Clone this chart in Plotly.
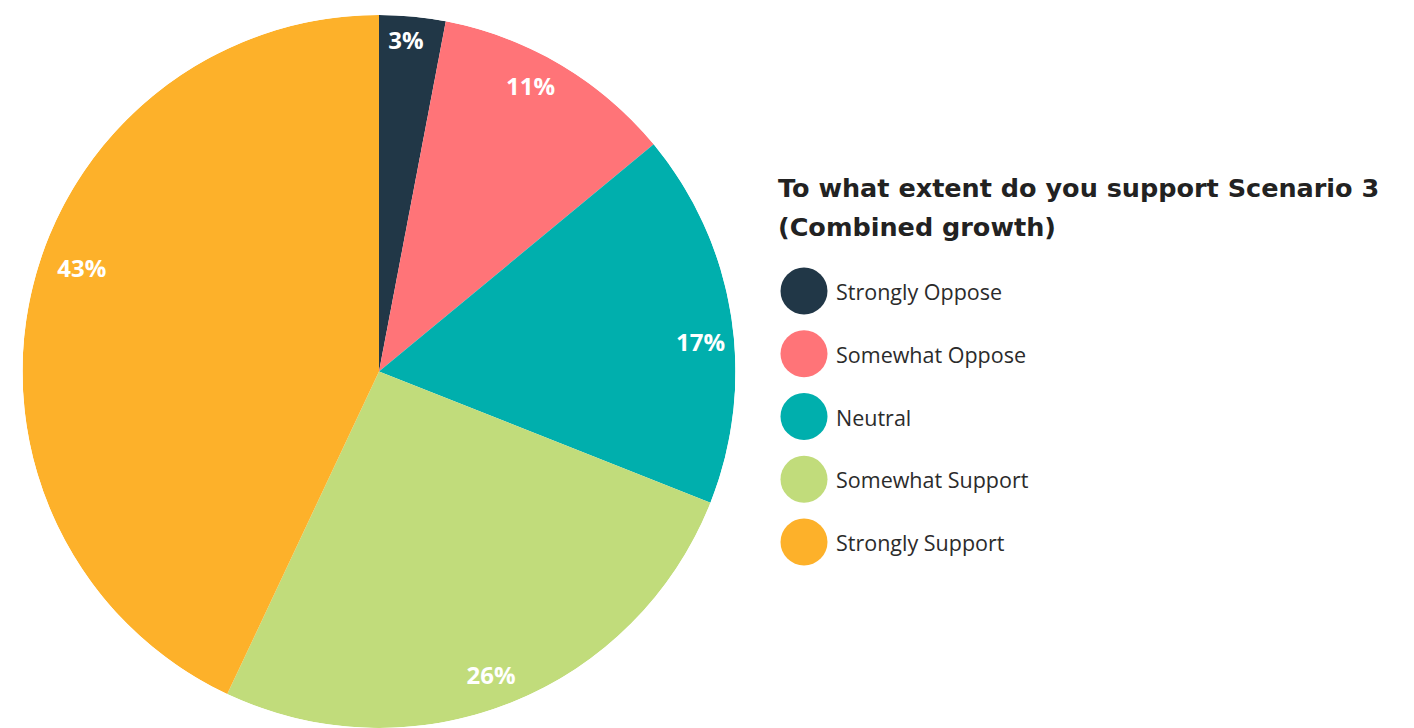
import numpy as np
import plotly.graph_objects as go

# Survey responses (percent of respondents)
categories = ["Strongly Oppose", "Somewhat Oppose", "Neutral", "Somewhat Support", "Strongly Support"]
shares = [3, 11, 17, 26, 43]
colors = ["#213747", "#FF7478", "#00AFAD", "#C1DC7B", "#FDB12A"]
title_lines = ["To what extent do you support Scenario 3", "(Combined growth)"]

W, H = 1414, 728
FONT = "Open Sans"
TITLE_FONT = "DejaVu Sans"

# label placement tweaks (radius fraction, angular nudge in degrees)
label_r = [0.925, 0.90, 0.905, 0.915, 0.88]
label_nudge = [-0.7, -2.4, 4.3, 1.5, 6.1]

vals = np.array(shares, dtype=float)
span = vals / vals.sum() * 360.0
start = np.concatenate([[0.0], np.cumsum(span)[:-1]])
mid = start + span / 2.0

fig = go.Figure()

# Pie slices as full-radius polar wedges
fig.add_trace(go.Barpolar(
    r=[1] * len(shares),
    theta=mid,
    width=span,
    marker=dict(color=colors, line=dict(width=0)),
    showlegend=False,
    hoverinfo="skip",
))

# Percentage labels near the rim of each slice
fig.add_trace(go.Scatterpolar(
    r=label_r,
    theta=mid + np.array(label_nudge),
    mode="text",
    text=[f"{v}%" for v in shares],
    textfont=dict(family=FONT, size=24, color="white", weight="bold"),
    showlegend=False,
    hoverinfo="skip",
))

# Legend: big round swatches with category names
legend_rows = np.arange(len(categories))
fig.add_trace(go.Scatter(
    x=[804] * len(categories),
    y=legend_rows,
    mode="markers",
    marker=dict(size=47, color=colors, line=dict(width=0)),
    showlegend=False,
    hoverinfo="skip",
    cliponaxis=False,
))
fig.add_trace(go.Scatter(
    x=[836] * len(categories),
    y=legend_rows + 0.06,
    mode="text",
    text=categories,
    textposition="middle right",
    textfont=dict(family=FONT, size=21.5, color="#2b2b2b"),
    showlegend=False,
    hoverinfo="skip",
    cliponaxis=False,
))

pie_top = 15
radius = (H - pie_top) / 2.0
cx = 379
step = 62.75
y0_px = 291

for i, line in enumerate(title_lines):
    fig.add_annotation(
        x=776 / W, y=1 - (188 + 39 * i) / H, xref="paper", yref="paper",
        xanchor="left", yanchor="middle", showarrow=False,
        text=f"<b>{line}</b>",
        font=dict(family=TITLE_FONT, size=25.5, color="#222222"),
    )

fig.update_layout(
    width=W, height=H,
    margin=dict(l=0, r=0, t=0, b=0),
    paper_bgcolor="white",
    plot_bgcolor="white",
    polar=dict(
        domain=dict(x=[(cx - radius) / W, (cx + radius) / W], y=[0, (H - pie_top) / H]),
        bgcolor="rgba(0,0,0,0)",
        bargap=0,
        angularaxis=dict(visible=False, rotation=90, direction="clockwise"),
        radialaxis=dict(visible=False, range=[0, 1]),
    ),
    xaxis=dict(visible=False, range=[0, W], domain=[0, 1], fixedrange=True),
    yaxis=dict(visible=False, range=[(H - y0_px) / step, -y0_px / step], domain=[0, 1], fixedrange=True),
)

fig.write_html("out.html")
